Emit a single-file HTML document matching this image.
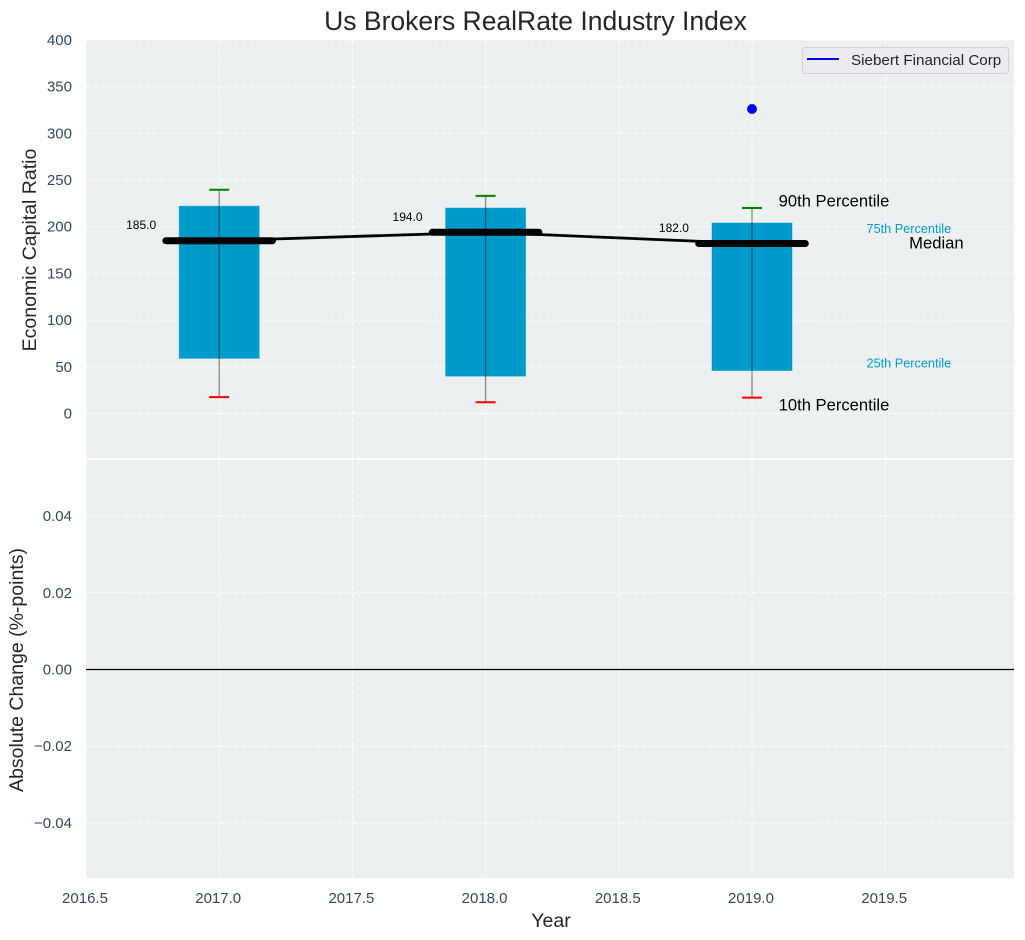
<!DOCTYPE html>
<html>
<head>
<meta charset="utf-8">
<style>
html,body{margin:0;padding:0;background:#fff;width:1025px;height:940px;overflow:hidden}
svg{display:block}
text{font-family:"Liberation Sans",Arial,sans-serif}
</style>
</head>
<body>
<svg id="chart" width="1025" height="940" viewBox="0 0 1025 940" xmlns="http://www.w3.org/2000/svg"></svg>
<script>
const years = [2017, 2018, 2019];
const p10 = [17.5, 12, 17];
const p25 = [58.5, 39.5, 45.5];
const medians = [185, 194, 182];
const p75 = [222.5, 220.5, 204.5];
const p90 = [239.5, 233, 220];
const medianLabels = ['185.0', '194.0', '182.0'];
const companyYears = [2019];
const companyValues = [326];
const xTicks = [2016.5, 2017, 2017.5, 2018, 2018.5, 2019, 2019.5];
const xTickLabels = ['2016.5', '2017.0', '2017.5', '2018.0', '2018.5', '2019.0', '2019.5'];
const topTicks = [0, 50, 100, 150, 200, 250, 300, 350, 400];
const topTickLabels = ['0', '50', '100', '150', '200', '250', '300', '350', '400'];
const bottomTicks = [-0.04, -0.02, 0, 0.02, 0.04];
const bottomTickLabels = ['\u22120.04', '\u22120.02', '0.00', '0.02', '0.04'];
const changeBaseline = [0];

const svg = document.getElementById('chart');
const NS = 'http://www.w3.org/2000/svg';
const L = 86, R = 1014, T1 = 40, B1 = 458, T2 = 460, B2 = 878;
const X = v => L + (v - 2016.5) * 266.4;
const Y1 = v => 413.5 - v * 0.934;
const Y2 = v => 669.5 - v * 3835;

function make(tag, attrs, name, interactable, text) {
  const el = document.createElementNS(NS, tag);
  for (const k in attrs) el.setAttribute(k, attrs[k]);
  
  
  if (text !== undefined) el.textContent = text;
  svg.appendChild(el);
  return el;
}
const tickColor = '#34495e';
const grid = {stroke: '#ffffff', 'stroke-width': 1, 'stroke-dasharray': '5 2.4'};

make('rect', {x: L, y: T1, width: R - L, height: B1 - T1, fill: '#ecf0f1'}, 'top-panel-background', 'false');
make('rect', {x: L, y: T2, width: R - L, height: B2 - T2, fill: '#ecf0f1'}, 'bottom-panel-background', 'false');

topTicks.forEach((t, i) => {
  make('line', Object.assign({x1: L, x2: R, y1: Y1(t), y2: Y1(t)}, grid), 'top-y-gridline', 'false');
  make('text', {x: 72, y: Y1(t) + 5, 'text-anchor': 'end', 'font-size': 15, fill: tickColor}, 'top-y-tick-label', 'false', topTickLabels[i]);
});
bottomTicks.forEach((t, i) => {
  make('line', Object.assign({x1: L, x2: R, y1: Y2(t), y2: Y2(t)}, grid), 'bottom-y-gridline', 'false');
  make('text', {x: 72, y: Y2(t) + 5, 'text-anchor': 'end', 'font-size': 15, fill: tickColor}, 'bottom-y-tick-label', 'false', bottomTickLabels[i]);
});
xTicks.forEach((t, i) => {
  make('line', Object.assign({x1: X(t), x2: X(t), y1: T1, y2: B1}, grid), 'top-x-gridline', 'false');
  make('line', Object.assign({x1: X(t), x2: X(t), y1: T2, y2: B2}, grid), 'bottom-x-gridline', 'false');
  make('text', {x: X(t) - 1, y: 903, 'text-anchor': 'middle', 'font-size': 15, fill: tickColor}, 'x-tick-label', 'false', xTickLabels[i]);
});

years.forEach((yr, i) => {
  make('rect', {x: X(yr - 0.152), y: Y1(p75[i]), width: X(yr + 0.152) - X(yr - 0.152), height: Y1(p25[i]) - Y1(p75[i]), fill: '#009bcb', stroke: '#ffffff', 'stroke-opacity': 0.4, 'stroke-width': 1}, 'box-' + yr, 'false');
  make('line', {x1: X(yr), x2: X(yr), y1: Y1(p90[i]), y2: Y1(p10[i]), stroke: '#000', 'stroke-opacity': 0.42, 'stroke-width': 1.4}, 'whisker-' + yr, 'false');
  make('line', {x1: X(yr - 0.0375), x2: X(yr + 0.0375), y1: Y1(p90[i]), y2: Y1(p90[i]), stroke: '#008000', 'stroke-width': 2}, 'p90-cap-' + yr, 'false');
  make('line', {x1: X(yr - 0.0375), x2: X(yr + 0.0375), y1: Y1(p10[i]), y2: Y1(p10[i]), stroke: '#ff0000', 'stroke-width': 2}, 'p10-cap-' + yr, 'false');
});

make('polyline', {points: years.map((yr, i) => X(yr) + ',' + Y1(medians[i])).join(' '), fill: 'none', stroke: '#000', 'stroke-width': 2.8}, 'median-trend-line', 'false');

years.forEach((yr, i) => {
  make('line', {x1: X(yr - 0.2), x2: X(yr + 0.2), y1: Y1(medians[i]), y2: Y1(medians[i]), stroke: '#000', 'stroke-width': 7, 'stroke-linecap': 'round'}, 'median-bar-' + yr, 'false');
  make('text', {x: X(yr - 0.293), y: Y1(medians[i]) - 11.5, 'text-anchor': 'middle', 'font-size': 12, fill: '#000'}, 'median-value-' + yr, 'false', medianLabels[i]);
});

companyYears.forEach((yr, i) => {
  make('circle', {cx: X(yr), cy: Y1(companyValues[i]), r: 5, fill: '#0000ff'}, 'siebert-point-' + yr, 'false');
});

const last = years.length - 1;
make('text', {x: X(2019.1), y: Y1(p90[last]) - 1.5, 'font-size': 16.6, fill: '#000'}, '90th-percentile-label', 'false', '90th Percentile');
make('text', {x: X(2019.43), y: Y1(p75[last]) + 10.5, 'font-size': 12.7, fill: '#009bcb'}, '75th-percentile-label', 'false', '75th Percentile');
make('text', {x: X(2019.59), y: Y1(medians[last]) + 5, 'font-size': 16.6, fill: '#000'}, 'median-label', 'false', 'Median');
make('text', {x: X(2019.43), y: Y1(p25[last]) - 3.5, 'font-size': 12.7, fill: '#009bcb'}, '25th-percentile-label', 'false', '25th Percentile');
make('text', {x: X(2019.1), y: Y1(p10[last]) + 13, 'font-size': 16.6, fill: '#000'}, '10th-percentile-label', 'false', '10th Percentile');

changeBaseline.forEach(v => {
  make('line', {x1: L, x2: R, y1: Y2(v), y2: Y2(v), stroke: '#000', 'stroke-width': 1.2}, 'zero-baseline', 'false');
});

make('rect', {x: 802.5, y: 47.5, width: 206, height: 26, rx: 3, fill: '#eaecf1', stroke: '#cfd1d5', 'stroke-width': 1}, 'legend-box', 'false');
make('line', {x1: 807, x2: 839, y1: 59, y2: 59, stroke: '#0000ff', 'stroke-width': 2}, 'legend-line', 'false');
make('text', {x: 851, y: 65, 'font-size': 15.2, fill: '#262626'}, 'legend-label', 'false', 'Siebert Financial Corp');

make('text', {x: 535.5, y: 30, 'text-anchor': 'middle', 'font-size': 26.5, fill: '#262626'}, 'chart-title', 'false', 'Us Brokers RealRate Industry Index');
make('text', {x: 551, y: 927, 'text-anchor': 'middle', 'font-size': 19.5, fill: '#262626'}, 'x-axis-title', 'false', 'Year');
make('text', {x: 36, y: 250, 'text-anchor': 'middle', 'font-size': 19.5, fill: '#262626', transform: 'rotate(-90 36 250)'}, 'top-y-axis-title', 'false', 'Economic Capital Ratio');
make('text', {x: 23, y: 670, 'text-anchor': 'middle', 'font-size': 19.5, fill: '#262626', transform: 'rotate(-90 23 670)'}, 'bottom-y-axis-title', 'false', 'Absolute Change (%-points)');
</script>
</body>
</html>
